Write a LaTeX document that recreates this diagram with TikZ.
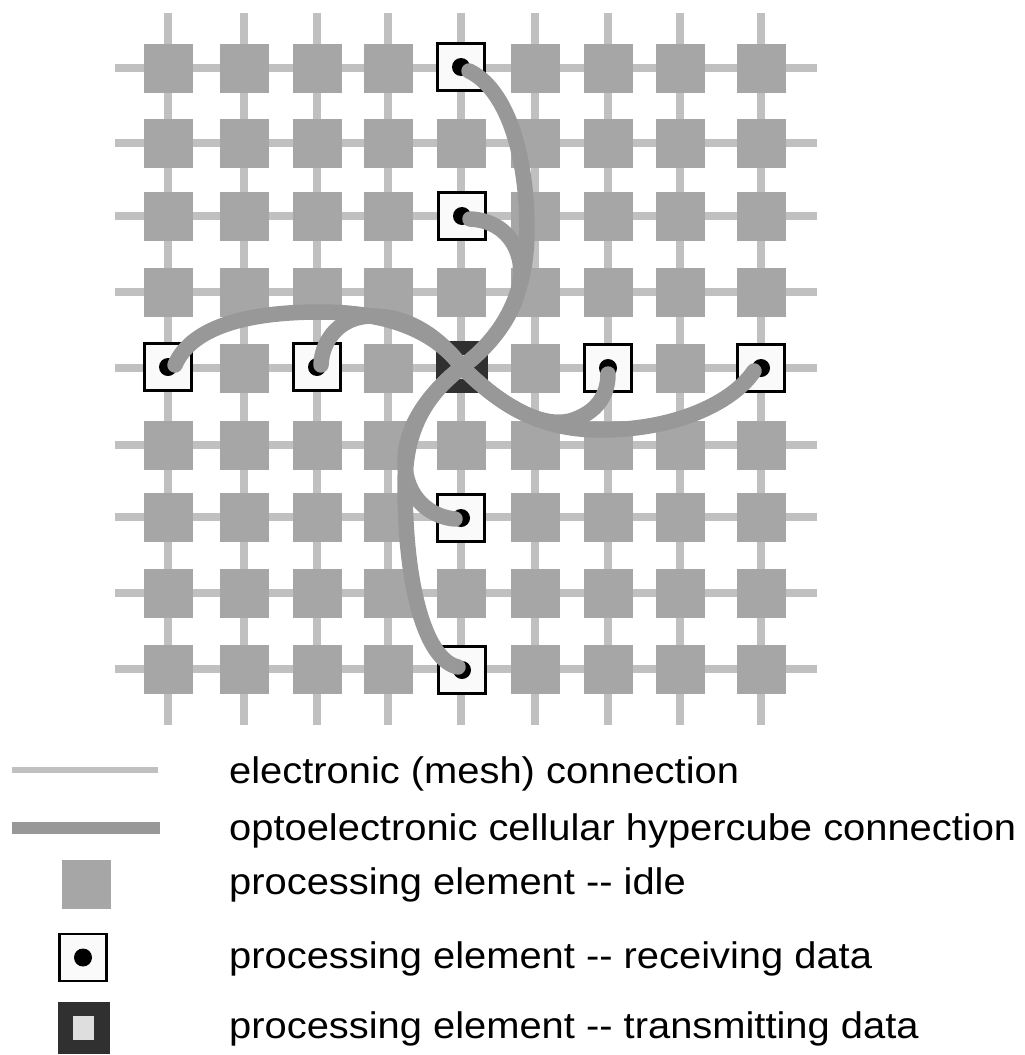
\documentclass[tikz,border=0pt]{standalone}
\usepackage{fontspec}
\setmainfont{Liberation Sans}
\definecolor{meshgray}{RGB}{192,192,192}
\definecolor{pegray}{RGB}{166,166,166}
\definecolor{optgray}{RGB}{152,152,152}
\definecolor{darkpe}{RGB}{48,48,48}
\definecolor{innerpe}{RGB}{222,222,222}
\definecolor{rxfill}{RGB}{250,250,250}
\newcommand{\dd}{-{}-}
\begin{document}
\begin{tikzpicture}[x=1pt,y=-1pt,
  mesh/.style={draw=meshgray,line width=7.5pt},
  idle/.style={rectangle,fill=pegray,minimum size=49pt,inner sep=0pt},
  recv/.style={rectangle,fill=rxfill,draw=black,line width=2.2pt,minimum size=47pt,inner sep=0pt},
  rxdot/.style={circle,fill=black,minimum size=18pt,inner sep=0pt},
  xmit/.style={rectangle,fill=darkpe,minimum size=52pt,inner sep=0pt},
  xmitcore/.style={rectangle,fill=innerpe,minimum width=21pt,minimum height=24pt,inner sep=0pt},
  optical/.style={draw=optgray,line width=15.5pt,line cap=round},
  legendtext/.style={anchor=base west,inner sep=0pt,font=\fontsize{37}{40}\selectfont}]
\useasboundingbox (0,0) rectangle (1025,1055);

% electronic mesh wiring
\foreach \x in {168,244,317,388,461,535,608,680,761}
  \draw[mesh] (\x,13) -- (\x,725);
\foreach \y in {68,143,216,292,368,445,517,593,669}
  \draw[mesh] (115,\y) -- (817,\y);

% idle processing elements (the active ones are placed below)
\foreach \x [count=\i] in {168,244,317,388,461,535,608,680,761}
  \foreach \y [count=\j] in {68,143,216,292,368,445,517,593,669}{
    \pgfmathtruncatemacro\busy{or(and(\i==5,isodd(\j)),and(\j==5,isodd(\i)))}
    \ifnum\busy=0 \node[idle] (pe-\i-\j) at (\x,\y) {};\fi
  }

% transmitting element
\node[xmit] (tx) at (462,367) {};
\node[xmitcore] (txc) at (tx.center) {};

% receiving elements
\node[recv] (rxu1) at (461,67) {};
\node[recv] (rxu2) at (462,216) {};
\node[recv] (rxd1) at (461,518) {};
\node[recv] (rxd2) at (462,670) {};
\node[recv] (rxl1) at (168,367) {};
\node[recv] (rxl2) at (317,367) {};
\node[recv] (rxr1) at (608,368) {};
\node[recv] (rxr2) at (761,368) {};
\foreach \r in {rxu1,rxu2,rxd1,rxd2,rxl1,rxl2,rxr1,rxr2}
  \node[rxdot] (\r-dot) at (\r.center) {};

% optoelectronic hypercube links fanning out of the transmitter
\draw[optical] (tx.center) .. controls (498,340) and (527,300) .. (527,230)
  .. controls (527,150) and (505,88) .. ([shift={(8,4)}]rxu1.center);
\draw[optical] (tx.center) .. controls (498,340) and (525,300) .. (520,262)
  .. controls (515,235) and (495,220) .. ([shift={(8,3)}]rxu2.center);
\draw[optical] (tx.center) .. controls (500,405) and (540,428) .. (570,421)
  .. controls (597,413) and (608,395) .. ([shift={(0,6)}]rxr1.center);
\draw[optical] (tx.center) .. controls (500,405) and (540,430) .. (600,430)
  .. controls (680,430) and (735,400) .. ([shift={(-7,3)}]rxr2.center);
\draw[optical] (tx.center) .. controls (430,392) and (405,425) .. (405,462)
  .. controls (405,497) and (430,517) .. ([shift={(-6,1)}]rxd1.center);
\draw[optical] (tx.center) .. controls (430,392) and (405,425) .. (405,485)
  .. controls (405,585) and (425,660) .. ([shift={(-4,-3)}]rxd2.center);
\draw[optical] (tx.center) .. controls (440,338) and (410,316) .. (372,316)
  .. controls (342,316) and (322,338) .. ([shift={(4,-2)}]rxl2.center);
\draw[optical] (tx.center) .. controls (440,338) and (400,312) .. (320,312)
  .. controls (240,312) and (190,330) .. ([shift={(7,-2)}]rxl1.center);

% legend
\coordinate (k1a) at (12,769.5);
\coordinate (k1b) at (158,769.5);
\coordinate (k2a) at (12,828);
\coordinate (k2b) at (160,828);
\draw[draw=meshgray,line width=6pt] (k1a) -- (k1b);
\draw[draw=optgray,line width=12pt] (k2a) -- (k2b);
\node[idle] (k3) at (86.5,884) {};
\node[recv] (k4) at (83,957.5) {};
\node[rxdot] (k4dot) at (k4.center) {};
\node[xmit] (k5) at (83.5,1028) {};
\node[xmitcore] (k5c) at (k5.center) {};

\node[legendtext] (t1) at (229,783) {\scalebox{1.078}[1]{electronic (mesh) connection}};
\node[legendtext] (t2) at (229,840) {\scalebox{1.078}[1]{optoelectronic cellular hypercube connection}};
\node[legendtext] (t3) at (229,894) {\scalebox{1.078}[1]{processing element \dd{} idle}};
\node[legendtext] (t4) at (229,968) {\scalebox{1.078}[1]{processing element \dd{} receiving data}};
\node[legendtext] (t5) at (229,1038) {\scalebox{1.078}[1]{processing element \dd{} transmitting data}};
\end{tikzpicture}
\end{document}
